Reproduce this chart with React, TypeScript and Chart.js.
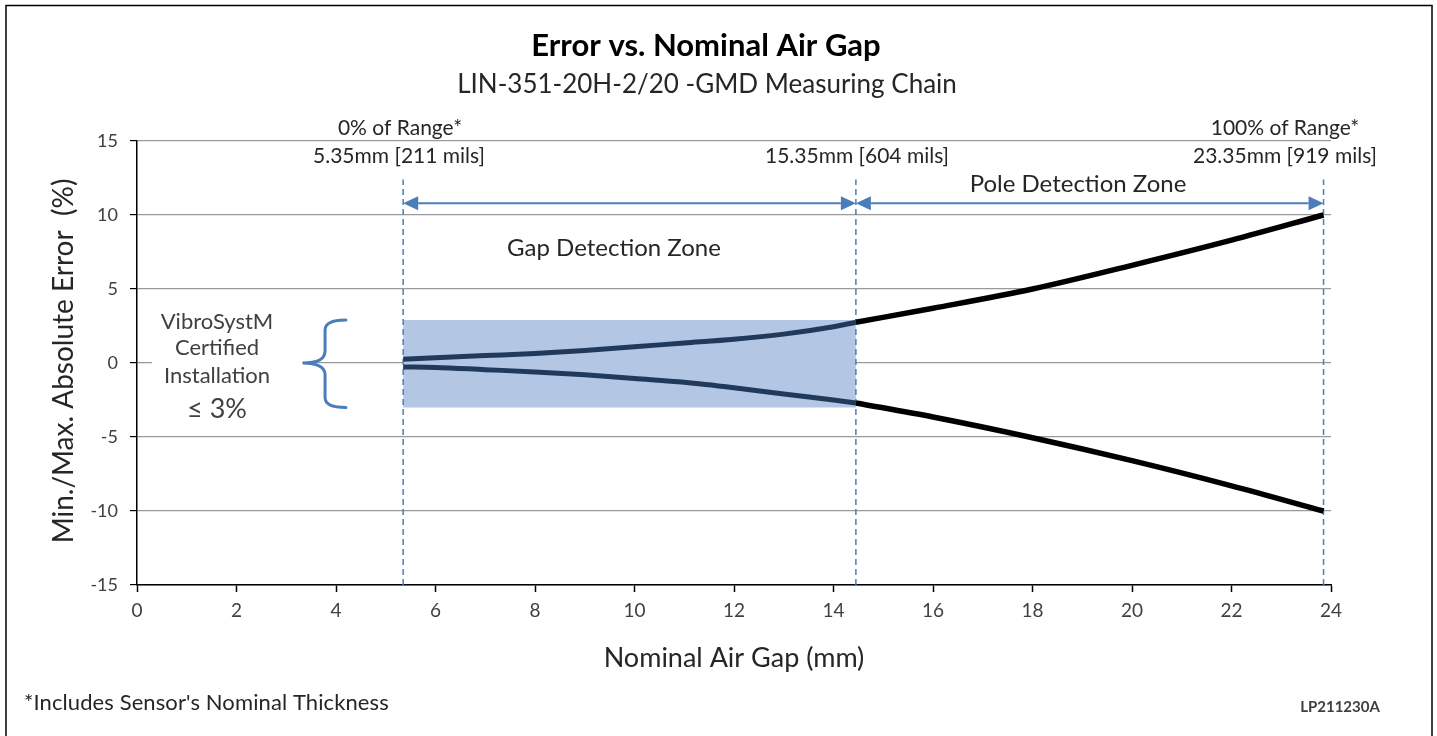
import { useEffect, useRef } from 'react';
import { Chart, registerables } from 'chart.js';
Chart.register(...registerables);

const gapX = [5.35, 6, 7, 8, 9, 10, 11, 12, 13, 14, 14.45];
const gapUpper = [0.25, 0.35, 0.5, 0.65, 0.85, 1.1, 1.35, 1.6, 1.95, 2.45, 2.75];
const gapLower = [-0.27, -0.3, -0.45, -0.6, -0.8, -1.05, -1.3, -1.67, -2.1, -2.5, -2.7];
const poleX = [14.45, 16, 18, 20, 22, 23.85];
const poleUpper = [2.75, 3.7, 5.0, 6.6, 8.3, 10.0];
const poleLower = [-2.7, -3.65, -5.05, -6.6, -8.3, -10.0];
const zoneBounds = [5.35, 14.45, 23.85];
const certifiedBand = [-3, 2.9];
const xRange = [0, 24];
const yRange = [-15, 15];
const xStep = 2;
const yStep = 5;
const dashTop = 12.4;
const arrowY = 10.8;

const FONT = "Lato, 'Open Sans', sans-serif";
const BLUE = '#4a7ebb';

const pts = (xs: number[], ys: number[]) => xs.map((x, i) => ({ x, y: ys[i] }));

const annotations = {
  id: 'annotations',
  afterDraw(chart: any) {
    const ctx = chart.ctx as CanvasRenderingContext2D;
    const sx = chart.scales.x;
    const sy = chart.scales.y;
    const X = (v: number) => sx.getPixelForValue(v);
    const Y = (v: number) => sy.getPixelForValue(v);
    ctx.save();
    // outer border
    ctx.strokeStyle = '#000';
    ctx.lineWidth = 1.5;
    ctx.strokeRect(6, 5.5, 1426, 740);

    const text = (t: string, x: number, y: number, font: string, color = '#262626', align: CanvasTextAlign = 'center', spacing = '0px') => {
      ctx.font = font;
      ctx.fillStyle = color;
      ctx.textAlign = align;
      ctx.textBaseline = 'middle';
      (ctx as any).letterSpacing = spacing;
      ctx.fillText(t, x, y);
      (ctx as any).letterSpacing = '0px';
    };

    text('Error vs. Nominal Air Gap', 706, 46, `bold 31px ${FONT}`, '#000');
    text('LIN-351-20H-2/20 -GMD Measuring Chain', 707, 85, `26px ${FONT}`, '#262626');

    text('0% of Range*', 400, 128, `21px ${FONT}`);
    text('5.35mm [211 mils]', 399, 156, `21px ${FONT}`);
    text('15.35mm [604 mils]', 857, 156, `21px ${FONT}`);
    text('100% of Range*', 1285, 128, `21px ${FONT}`);
    text('23.35mm [919 mils]', 1285, 156, `21px ${FONT}`);
    text('Pole Detection Zone', 1078, 184, `24px ${FONT}`);
    text('Gap Detection Zone', 614, 248, `24px ${FONT}`);

    // arrows
    const arrow = (a: number, b: number) => {
      const xa = X(a), xb = X(b), y = Y(arrowY);
      const L = 15, H = 7;
      ctx.strokeStyle = BLUE;
      ctx.fillStyle = BLUE;
      ctx.lineWidth = 2;
      ctx.beginPath();
      ctx.moveTo(xa + L, y);
      ctx.lineTo(xb - L, y);
      ctx.stroke();
      ctx.beginPath();
      ctx.moveTo(xa, y);
      ctx.lineTo(xa + L, y - H);
      ctx.lineTo(xa + L, y + H);
      ctx.closePath();
      ctx.fill();
      ctx.beginPath();
      ctx.moveTo(xb, y);
      ctx.lineTo(xb - L, y - H);
      ctx.lineTo(xb - L, y + H);
      ctx.closePath();
      ctx.fill();
    };
    arrow(zoneBounds[0], zoneBounds[1]);
    arrow(zoneBounds[1], zoneBounds[2]);

    // certified text box
    ctx.fillStyle = '#fff';
    ctx.fillRect(152, 300, 150, 125);
    text('VibroSystM', 217, 322, `22px ${FONT}`, '#404040');
    text('Certified', 217, 348, `22px ${FONT}`, '#404040');
    text('Installation', 217, 376, `22px ${FONT}`, '#404040');
    text('\u2264 3%', 217, 409, `27px ${FONT}`, '#404040');

    // brace
    const xR = X(4.2), xM = X(3.78), xL = X(3.33);
    const yT = Y(certifiedBand[1]), yB = Y(certifiedBand[0]), yM = Y(0);
    ctx.strokeStyle = BLUE;
    ctx.lineWidth = 3;
    ctx.lineCap = 'round';
    ctx.beginPath();
    ctx.moveTo(xR, yT);
    ctx.quadraticCurveTo(xM, yT, xM, yT + 10);
    ctx.lineTo(xM, yM - 12);
    ctx.quadraticCurveTo(xM, yM, xL, yM);
    ctx.quadraticCurveTo(xM, yM, xM, yM + 12);
    ctx.lineTo(xM, yB - 10);
    ctx.quadraticCurveTo(xM, yB, xR, yB);
    ctx.stroke();

    // axis titles
    text('Nominal Air Gap (mm)', 734, 658, `27px ${FONT}`, '#262626');
    ctx.save();
    ctx.translate(64, 361);
    ctx.rotate(-Math.PI / 2);
    text('Min./Max. Absolute Error  (%)', 0, 0, `28px ${FONT}`, '#262626');
    ctx.restore();

    text("*Includes Sensor's Nominal Thickness", 24, 703, `22px ${FONT}`, '#262626', 'left', '0.1px');
    text('LP211230A', 1340, 707, `bold 15px ${FONT}`, '#404040');
    ctx.restore();
  },
};

export default function App() {
  const ref = useRef<HTMLCanvasElement | null>(null);
  useEffect(() => {
    if (!ref.current) return;
    const vline = (v: number) => ({
      type: 'line' as const,
      data: [{ x: v, y: yRange[0] }, { x: v, y: dashTop }],
      borderColor: BLUE,
      borderWidth: 1.5,
      borderDash: [6, 4],
      pointRadius: 0,
      fill: false,
      order: 5,
    });
    const curve = (xs: number[], ys: number[], color: string, w: number) => ({
      data: pts(xs, ys),
      borderColor: color,
      borderWidth: w,
      pointRadius: 0,
      tension: 0.4,
      cubicInterpolationMode: 'monotone' as const,
      fill: false,
      order: 1,
    });
    const chart = new Chart(ref.current, {
      type: 'line',
      data: {
        datasets: [
          {
            data: [{ x: zoneBounds[0], y: certifiedBand[1] }, { x: zoneBounds[1], y: certifiedBand[1] }],
            borderWidth: 0,
            borderColor: 'rgba(0,0,0,0)',
            backgroundColor: '#b3c6e3',
            fill: { value: certifiedBand[0] },
            pointRadius: 0,
            order: 10,
          } as any,
          vline(zoneBounds[0]),
          vline(zoneBounds[1]),
          vline(zoneBounds[2]),
          curve(gapX, gapUpper, '#213a5c', 5),
          curve(gapX, gapLower, '#213a5c', 5),
          curve(poleX, poleUpper, '#000', 5.5),
          curve(poleX, poleLower, '#000', 5.5),
        ],
      },
      options: {
        responsive: false,
        animation: false,
        layout: { padding: { top: 141, right: 106, left: 0, bottom: 0 } },
        plugins: { legend: { display: false }, tooltip: { enabled: false }, title: { display: false } },
        scales: {
          x: {
            type: 'linear',
            min: xRange[0],
            max: xRange[1],
            ticks: { stepSize: xStep, color: '#404040', font: { family: FONT, size: 19 }, padding: 7 },
            grid: { drawOnChartArea: false, drawTicks: true, tickLength: 7, tickColor: '#000', tickWidth: 1.5 },
            border: { color: '#000', width: 1.5 },
            afterFit: (s: any) => { s.height = 151; },
          },
          y: {
            type: 'linear',
            min: yRange[0],
            max: yRange[1],
            ticks: { stepSize: yStep, color: '#404040', font: { family: FONT, size: 18 }, padding: 12 },
            grid: { color: '#9a9a9a', lineWidth: 1.2, tickLength: 7, tickColor: '#000' },
            border: { color: '#000', width: 1.5 },
            afterFit: (s: any) => { s.width = 137; },
          },
        },
      },
      plugins: [annotations],
    });
    return () => chart.destroy();
  }, []);
  return (
    <div style={{ position: 'fixed', left: 0, top: 0, width: 1437, height: 736, background: '#fff' }}>
      <canvas ref={ref} width={1437} height={736} style={{ width: 1437, height: 736 }} />
    </div>
  );
}
